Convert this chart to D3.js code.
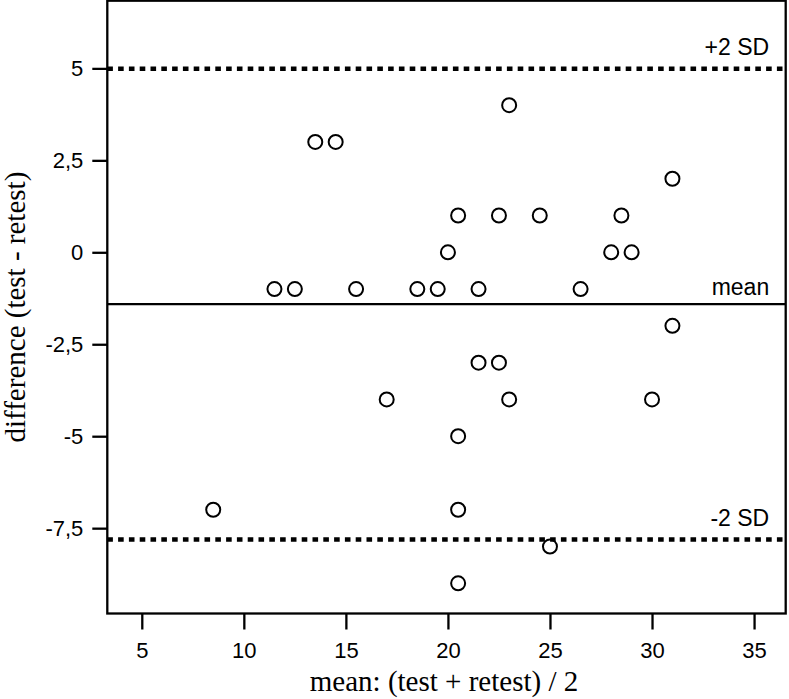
<!DOCTYPE html>
<html>
<head>
<meta charset="utf-8">
<script src="https://cdn.jsdelivr.net/npm/d3@7"></script>
<style>
  body { margin: 0; background: #fff; }
  .tick-label { font-family: "Liberation Sans", Arial, Helvetica, sans-serif; font-size: 22px; fill: #000; }
  .line-label { font-family: "Liberation Sans", Arial, Helvetica, sans-serif; font-size: 23px; fill: #000; }
  .axis-title { font-family: "Liberation Serif", "Times New Roman", serif; font-size: 29px; fill: #000; }
</style>
</head>
<body>
<div id="chart"></div>
<script>
'use strict';

// mean of the two measurements (x) and their difference (y)
var MEANS = [8.5, 11.5, 12.5, 13.5, 14.5, 15.5, 17, 18.5, 19.5, 20, 20.5,
    20.5, 20.5, 20.5, 21.5, 21.5, 22.5, 22.5, 23, 23, 24.5, 25, 26.5, 28,
    28.5, 29, 30, 31, 31];
var DIFFERENCES = [-7, -1, -1, 3, 3, -1, -4, -1, -1, 0, 1, -5, -7, -9, -1,
    -3, 1, -3, 4, -4, 1, -8, -1, 0, 1, 0, -4, 2, -2];

// reference lines: mean difference and limits of agreement
var LINE_LABELS = ['+2 SD', 'mean', '-2 SD'];
var LINE_VALUES = [4.99, -1.41, -7.81];

var X_TICKS = [5, 10, 15, 20, 25, 30, 35];
var Y_TICKS = [-7.5, -5, -2.5, 0, 2.5, 5];
var X_DOMAIN = [3.31, 36.55];
var Y_DOMAIN = [-9.82, 6.84];

var X_TITLE = 'mean: (test + retest) / 2';
var Y_TITLE = 'difference (test - retest)';


var WIDTH = 789,
    HEIGHT = 699,
    MARGIN_LEFT = 107.3,
    MARGIN_TOP = 0.7,
    MARGIN_RIGHT = 3.3,
    MARGIN_BOTTOM = 85.5;

var plotWidth = WIDTH - MARGIN_LEFT - MARGIN_RIGHT,
    plotHeight = HEIGHT - MARGIN_TOP - MARGIN_BOTTOM;

var commaLocale = d3.formatLocale({
  decimal: ',',
  thousands: '.',
  grouping: [3],
  currency: ['', ''],
  minus: '-'
});
var formatTick = commaLocale.format('.1~f');

var svg = d3.select('#chart').append('svg')
    .attr('width', WIDTH)
    .attr('height', HEIGHT);

var plotArea = svg.append('g')
    .attr('transform', 'translate(' + MARGIN_LEFT + ',' + MARGIN_TOP + ')');

var x = d3.scaleLinear().domain(X_DOMAIN).range([0, plotWidth]);
var y = d3.scaleLinear().domain(Y_DOMAIN).range([plotHeight, 0]);

// axes (no domain path, the frame is drawn as a rect)
var xAxis = plotArea.append('g')
    .attr('transform', 'translate(0,' + plotHeight + ')')
    .call(d3.axisBottom(x)
        .tickValues(X_TICKS)
        .tickSize(16)
        .tickPadding(13)
        .tickFormat(formatTick));

var yAxis = plotArea.append('g')
    .call(d3.axisLeft(y)
        .tickValues(Y_TICKS)
        .tickSize(15)
        .tickPadding(9)
        .tickFormat(formatTick));

[xAxis, yAxis].forEach(function (axis) {
  axis.attr('font-family', null).attr('font-size', null);
  axis.select('.domain').remove();
  axis.selectAll('.tick line')
      .attr('stroke', '#000')
      .attr('stroke-width', 2.3);
  axis.selectAll('.tick text')
      .attr('class', 'tick-label');
});

// reference lines, the mean one is solid
var refLines = plotArea.append('g').selectAll('g')
    .data(LINE_VALUES)
    .join('g');

refLines.append('line')
    .attr('x1', 0)
    .attr('x2', plotWidth)
    .attr('y1', function (d) { return y(d); })
    .attr('y2', function (d) { return y(d); })
    .attr('stroke', '#000')
    .attr('stroke-width', function (d, i) { return i === 1 ? 2.3 : 4.6; })
    .attr('stroke-dasharray', function (d, i) { return i === 1 ? null : '5.6 5.2'; });

refLines.append('text')
    .attr('class', 'line-label')
    .attr('text-anchor', 'end')
    .attr('x', plotWidth - 16.5)
    .attr('y', function (d, i) { return y(d) - (i === 1 ? 9.5 : 14); })
    .text(function (d, i) { return LINE_LABELS[i]; });

// points
plotArea.append('g').selectAll('circle')
    .data(MEANS)
    .join('circle')
    .attr('cx', function (d) { return x(d); })
    .attr('cy', function (d, i) { return y(DIFFERENCES[i]); })
    .attr('r', 7)
    .attr('fill', 'none')
    .attr('stroke', '#000')
    .attr('stroke-width', 2);

// frame
plotArea.append('rect')
    .attr('width', plotWidth)
    .attr('height', plotHeight)
    .attr('fill', 'none')
    .attr('stroke', '#000')
    .attr('stroke-width', 2.3);

// axis titles
svg.append('text')
    .attr('class', 'axis-title')
    .attr('text-anchor', 'middle')
    .attr('x', 444)
    .attr('y', 691)
    .text(X_TITLE);

svg.append('text')
    .attr('class', 'axis-title')
    .attr('text-anchor', 'middle')
    .attr('transform', 'translate(25,' + (MARGIN_TOP + plotHeight / 2) + ') rotate(-90)')
    .text(Y_TITLE);
</script>
</body>
</html>
